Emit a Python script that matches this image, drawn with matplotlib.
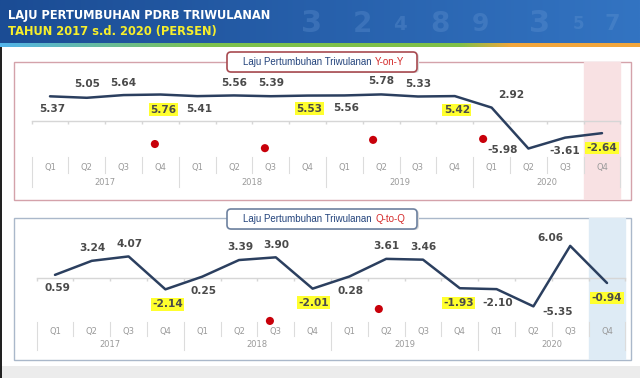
import numpy as np
import matplotlib.pyplot as plt
from matplotlib.patches import Rectangle, FancyBboxPatch

# data
quarters = ['Q1', 'Q2', 'Q3', 'Q4'] * 4
years = ['2017', '2018', '2019', '2020']
yoy = [5.37, 5.05, 5.64, 5.76, 5.41, 5.56, 5.39, 5.53,
       5.56, 5.78, 5.33, 5.42, 2.92, -5.98, -3.61, -2.64]
qtq = [0.59, 3.24, 4.07, -2.14, 0.25, 3.39, 3.90, -2.01,
       0.28, 3.61, 3.46, -1.93, -2.10, -5.35, 6.06, -0.94]
highlight = [3, 7, 11, 15]

# stray red dots that sit on the original slide
yoy_dot_x = [2.85, 5.84, 8.78, 11.77]
yoy_dot_y = [-5.0, -5.9, -4.1, -3.9]
qtq_dot_x = [5.84, 8.8]
qtq_dot_y = [-8.1, -5.85]

# value label offsets in pixels (dx, dy; dy > 0 means below the point)
yoy_off = [(2, 13), (0, -14), (0, -12), (3, 15), (2, 13), (0, -12), (0, -13), (2, 13),
           (2, 13), (0, -13), (0, -13), (2, 14), (20, -13), (-26, 1), (0, 13), (0, 15)]
qtq_off = [(2, 13), (1, -13), (1, -12), (2, 15), (1, 14), (1, -13), (0, -12), (1, 14),
           (1, 14), (0, -13), (0, -13), (-1, 15), (1, 14), (24, 6), (-20, -8), (0, 15)]

W, H = 640, 378
fig = plt.figure(figsize=(6.4, 3.78), dpi=100)
fig.patch.set_facecolor('white')


def box(x0, y0, x1, y1):
    return [x0 / W, 1 - y1 / H, (x1 - x0) / W, (y1 - y0) / H]


# background layer in pixel coordinates
bg = fig.add_axes([0, 0, 1, 1], zorder=0)
bg.set_xlim(0, W)
bg.set_ylim(H, 0)
bg.axis('off')

grad = np.linspace(0, 1, 256)
c0 = np.array([0x1b, 0x4c, 0x94]) / 255
c1 = np.array([0x33, 0x74, 0xc2]) / 255
img = c0[None, :] + (c1 - c0)[None, :] * grad[:, None]
bg.imshow(img[None, :, :], extent=[0, W, 44, 0], aspect='auto', zorder=1)
# faint numbers in the header artwork
for ch, x, s in [('3', 312, 22), ('2', 362, 20), ('4', 400, 14), ('8', 440, 20),
                 ('9', 480, 18), ('3', 540, 22), ('5', 578, 12), ('7', 612, 16)]:
    bg.text(x, 24, ch, fontsize=s, fontweight='bold', color='#6a9ad6', alpha=0.3,
            ha='center', va='center', zorder=2)

strip = np.linspace(0, 1, 256)
cols = np.array([[0x52, 0xb4, 0xea], [0x7d, 0xc2, 0x4e], [0x80, 0xc0, 0x48],
                 [0xf2, 0xa6, 0x3c]]) / 255
stops = [0, 0.32, 0.72, 0.8]
simg = np.stack([np.interp(strip, stops, cols[:, k]) for k in range(3)], axis=1)
bg.imshow(simg[None, :, :], extent=[0, W, 47, 43], aspect='auto', zorder=3)
bg.add_patch(Rectangle((0, 366), W, 12, fc='#ececec', ec='none', zorder=1))
bg.add_patch(Rectangle((0, 47), 1.5, 331, fc='#222222', ec='none', zorder=1))

bg.text(8, 15, 'LAJU PERTUMBUHAN PDRB TRIWULANAN', fontsize=8.3, fontweight='bold',
        color='white', va='center', ha='left', zorder=4)
bg.text(8, 32, 'TAHUN 2017 s.d. 2020 (PERSEN)', fontsize=8.3, fontweight='bold',
        color='#f6ee2c', va='center', ha='left', zorder=4)

# panel frames and title boxes
bg.add_patch(Rectangle((14, 62), 617, 138, fc='none', ec='#d4a2aa', lw=1, zorder=2))
bg.add_patch(Rectangle((14, 218), 617, 142, fc='none', ec='#aab8ca', lw=1, zorder=2))
for y0, ec, tail in [(52, '#a84a50', 'Y-on-Y'), (209, '#6d819f', 'Q-to-Q')]:
    bg.add_patch(FancyBboxPatch((229, y0 + 1), 190, 20, boxstyle='round,pad=0,rounding_size=4',
                                fc='#dddddd', ec='none', zorder=5))
    bg.add_patch(FancyBboxPatch((227, y0), 190, 20, boxstyle='round,pad=0,rounding_size=4',
                                fc='white', ec=ec, lw=1.2, zorder=6))
    bg.text(374, y0 + 10, 'Laju Pertumbuhan Triwulanan ', fontsize=7, color='#24447c',
            family='Liberation Sans', ha='right', va='center', zorder=7)
    bg.text(375, y0 + 10, tail, fontsize=7, color='#d42a2a', family='Liberation Sans',
            ha='left', va='center', zorder=7)


def panel(rect, vals, offs, xlim, ylim, band, dx, dy, sep):
    ax = fig.add_axes(box(*rect), zorder=3)
    ax.patch.set_alpha(0)
    ax.axis('off')
    ax.set_xlim(*xlim)
    ax.set_ylim(*ylim)
    x = np.arange(len(vals))
    ax.axvspan(14.5, 15.5, color=band, zorder=0)
    ax.plot([-0.5, 15.5], [0, 0], color='#d6d6d6', lw=1, zorder=1)
    tick = (ylim[1] - ylim[0]) * 0.02
    ax.vlines(np.arange(-0.5, 16), -tick, 0, color='#d6d6d6', lw=1, zorder=1)
    ax.plot(x, vals, color='#2b3f5f', lw=1.8, zorder=3, solid_capstyle='round')
    ax.scatter(dx, dy, s=34, color='#c8000a', zorder=4, edgecolors='none')
    for i, v in enumerate(vals):
        ox, oy = offs[i]
        bb = None
        if i in highlight:
            bb = dict(boxstyle='square,pad=0.12', fc='#ffff2e', ec='none')
        ax.annotate(f'{v:.2f}', (i, v), xytext=(ox * 0.72, -oy * 0.72),
                    textcoords='offset points', ha='center', va='center',
                    fontsize=7.6, fontweight='bold', color='#4a4a4a', bbox=bb, zorder=5)
    tr = ax.get_xaxis_transform()
    q_top, q_bot, y_bot, q_lab, y_lab = sep
    for b in np.arange(-0.5, 16):
        low = y_bot if (b + 0.5) % 4 == 0 else q_bot
        ax.plot([b, b], [q_top, low], color='#dcdcdc', lw=0.8, transform=tr, zorder=1)
    for i, q in enumerate(quarters):
        ax.text(i, q_lab, q, transform=tr, fontsize=6, color='#9a9a9a',
                ha='center', va='center')
    for k, yr in enumerate(years):
        ax.text(4 * k + 1.5, y_lab, yr, transform=tr, fontsize=6, color='#9a9a9a',
                ha='center', va='center')
    return ax


panel((14, 62, 631, 200), yoy, yoy_off, (-0.978, 15.788), (-17.17, 12.83), '#f8e1e3',
      yoy_dot_x, yoy_dot_y, (0.312, 0.196, 0.094, 0.239, 0.130))
panel((14, 218, 631, 360), qtq, qtq_off, (-1.114, 15.652), (-15.47, 11.32), '#deebf5',
      qtq_dot_x, qtq_dot_y, (0.268, 0.169, 0.070, 0.204, 0.106))

fig.savefig('out.png', dpi=100)
